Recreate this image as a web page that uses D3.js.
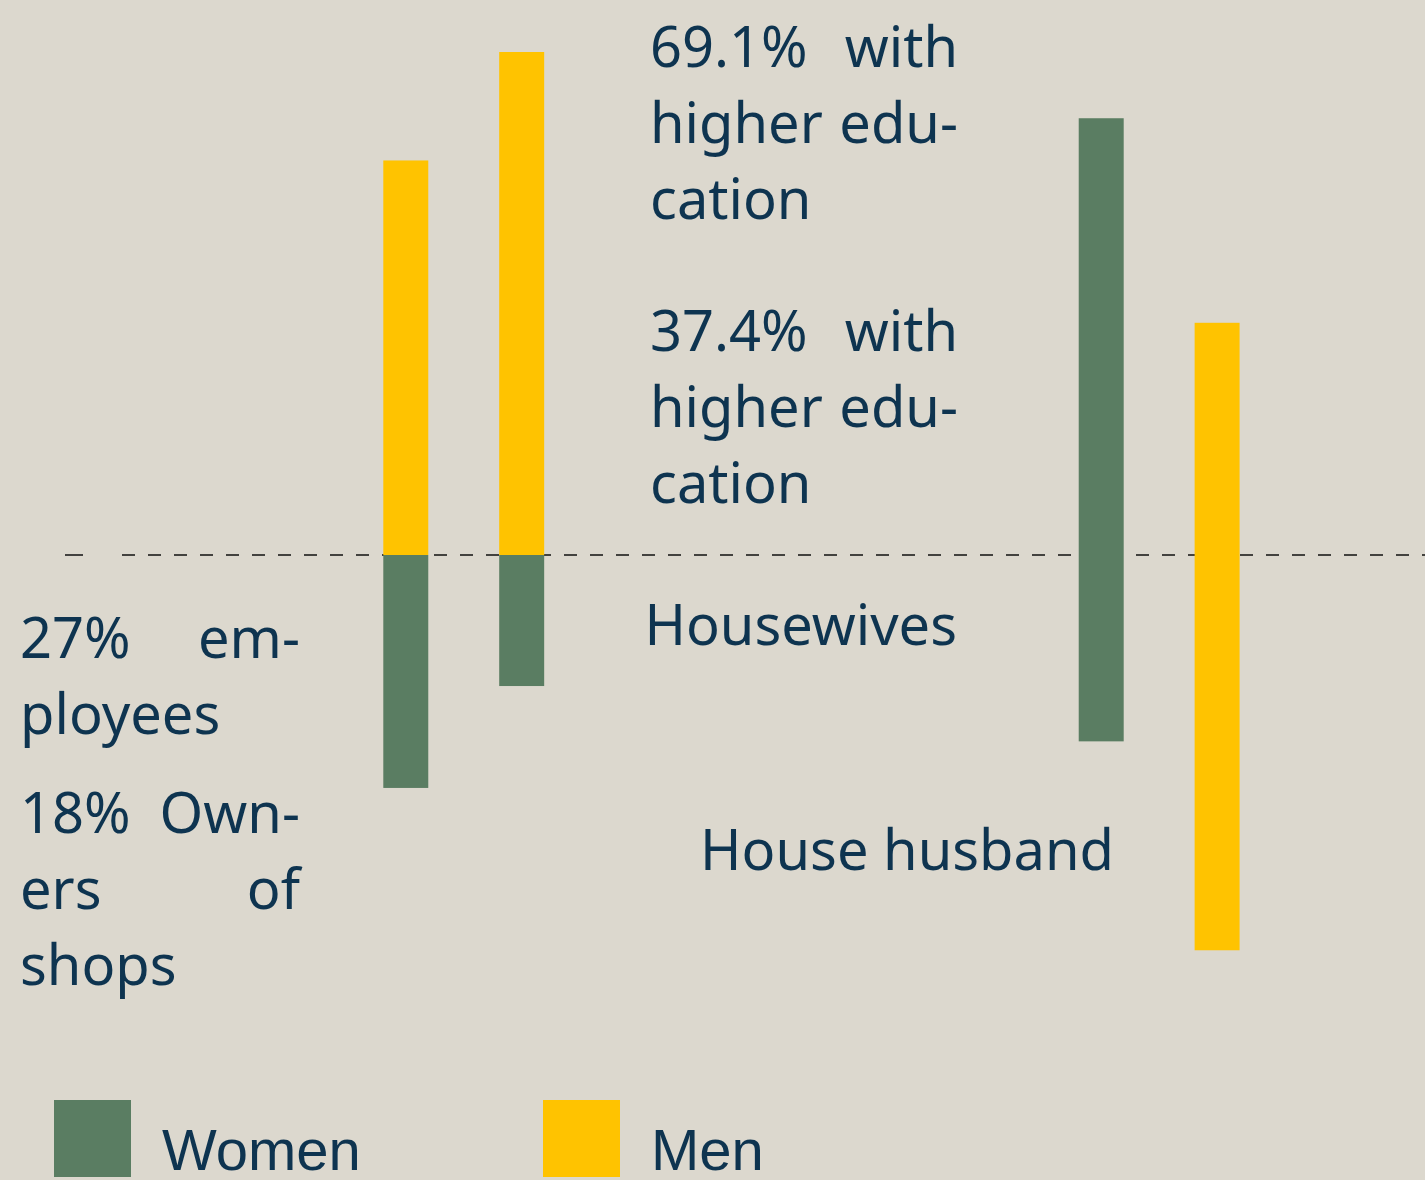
<!DOCTYPE html>
<html>
<head>
<meta charset="utf-8">
<script src="https://cdn.jsdelivr.net/npm/d3@7"></script>
<style>
  html, body { margin: 0; padding: 0; background: #dcd8ce; }
  svg { display: block; }
</style>
</head>
<body>
<script>
// Groups, left to right; spacer slots keep the wide gap between the pairs
const groups = ["work", "education", "home", "homeM"];
const slots = ["work", "education", "gap1", "gap2", "gap3", "gap4", "home", "homeM"];

// Percentages above and below the zero line for each group
const upValues   = [54.2, 69.1, 60.0, 31.9];
const downValues = [32.0, 18.0, 25.6, 54.3];

// Which series each segment belongs to
const upSeries   = ["Men", "Men", "Women", "Men"];
const downSeries = ["Women", "Women", "Women", "Men"];

const seriesNames = ["Women", "Men"];
const seriesColors = ["#5a7d62", "#ffc300"];

// Annotation paragraphs: each line is a list of words and whether it is justified
const noteWork = [
  [["27%", "em-"], true],
  [["ployees"], false]
];
const noteShops = [
  [["18%", "Own-"], true],
  [["ers", "of"], true],
  [["shops"], false]
];
const noteMenEdu = [
  [["69.1%", "with"], true],
  [["higher", "edu-"], true],
  [["cation"], false]
];
const noteWomenEdu = [
  [["37.4%", "with"], true],
  [["higher", "edu-"], true],
  [["cation"], false]
];
const noteHousewives = "Housewives";
const noteHusband = "House husband";

const W = 1425, H = 1180;
const textColor = "#0e3450";
const bodyFont = "'Noto Sans', 'Open Sans', sans-serif";

const svg = d3.select("body").append("svg")
  .attr("width", W).attr("height", H);

svg.append("rect").attr("width", W).attr("height", H).attr("fill", "#dcd8ce");

const color = d3.scaleOrdinal().domain(seriesNames).range(seriesColors);

const x = d3.scaleBand()
  .domain(slots)
  .range([383.3, 1239.6])
  .paddingInner(0.612)
  .paddingOuter(0);

const y = d3.scaleLinear().domain([0, 69.1]).range([555, 52]);

// Zero line (dashed)
const zeroY = y(0);
svg.append("line")
  .attr("x1", 65).attr("x2", 83)
  .attr("y1", zeroY).attr("y2", zeroY)
  .attr("stroke", "#111").attr("stroke-width", 1.5);
svg.append("line")
  .attr("x1", 122).attr("x2", W)
  .attr("y1", zeroY).attr("y2", zeroY)
  .attr("stroke", "#111").attr("stroke-width", 1.5)
  .attr("stroke-dasharray", "13 13");

// Bars above and below zero
const rows = groups.map((g, i) => ({
  group: g, up: upValues[i], down: downValues[i],
  upS: upSeries[i], downS: downSeries[i]
}));

const barG = svg.append("g");
barG.selectAll("rect.up").data(rows).join("rect")
  .attr("class", "up")
  .attr("x", d => x(d.group))
  .attr("width", x.bandwidth())
  .attr("y", d => y(d.up))
  .attr("height", d => y(0) - y(d.up))
  .attr("fill", d => color(d.upS));

barG.selectAll("rect.down").data(rows).join("rect")
  .attr("class", "down")
  .attr("x", d => x(d.group))
  .attr("width", x.bandwidth())
  .attr("y", y(0))
  .attr("height", d => y(-d.down) - y(0))
  .attr("fill", d => color(d.downS));

// Justified paragraph helper
function paragraph(lines, left, right, firstBaseline, lineHeight) {
  const g = svg.append("g")
    .attr("font-family", bodyFont)
    .attr("font-size", 56)
    .attr("fill", textColor);
  lines.forEach(([words, justify], li) => {
    const by = firstBaseline + li * lineHeight;
    if (!justify || words.length === 1) {
      g.append("text").attr("x", left).attr("y", by).text(words.join(" "));
      return;
    }
    // Measure words, spread the remaining space evenly between them
    const nodes = words.map(w => g.append("text").attr("y", by).text(w));
    const widths = nodes.map(n => n.node().getComputedTextLength());
    const gap = (right - left - d3.sum(widths)) / (words.length - 1);
    let cx = left;
    nodes.forEach((n, k) => {
      n.attr("x", cx);
      cx += widths[k] + gap;
    });
  });
}

paragraph(noteWork, 20, 300, 658, 76);
paragraph(noteShops, 20, 300, 833, 76);
paragraph(noteMenEdu, 650, 958, 67, 76);
paragraph(noteWomenEdu, 650, 958, 351, 76);

svg.append("text")
  .attr("x", 957).attr("y", 645)
  .attr("text-anchor", "end")
  .attr("font-family", bodyFont).attr("font-size", 56)
  .attr("fill", textColor)
  .text(noteHousewives);

svg.append("text")
  .attr("x", 1114).attr("y", 870)
  .attr("text-anchor", "end")
  .attr("font-family", bodyFont).attr("font-size", 56)
  .attr("fill", textColor)
  .text(noteHusband);

// Legend
const legendX = d3.scalePoint().domain(seriesNames).range([54, 543]);
const legend = svg.append("g").selectAll("g").data(seriesNames).join("g")
  .attr("transform", d => `translate(${legendX(d)},1100)`);
legend.append("rect")
  .attr("width", 77).attr("height", 77)
  .attr("fill", d => color(d));
legend.append("text")
  .attr("x", 108).attr("y", 70)
  .attr("font-family", "'Liberation Sans', Arial, sans-serif")
  .attr("font-size", 58)
  .attr("fill", textColor)
  .text(d => d);
</script>
</body>
</html>
